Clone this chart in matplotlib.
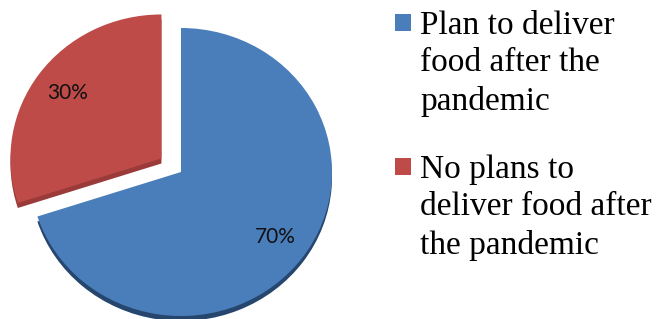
import matplotlib
matplotlib.use("Agg")
import matplotlib.pyplot as plt
from matplotlib.patches import Rectangle

LABELS = ["Plan to deliver\nfood after the\npandemic",
          "No plans to\ndeliver food after\nthe pandemic"]
SHARES = [70, 30]
EXPLODE = [0, 0.16]

COLORS = ["#4a7ebb", "#be4b48"]
SIDE_COLORS = ["#26466e", "#9a3b39"]

W, H = 656, 319
fig = plt.figure(figsize=(W / 100, H / 100), dpi=100)
fig.patch.set_facecolor("white")
ax = fig.add_axes([0, 0, 360 / W, 1])

# darker copy a few pixels lower gives the slab a bit of thickness
ax.pie(SHARES, explode=EXPLODE, colors=SIDE_COLORS, startangle=90,
       counterclock=False, center=(0, -0.035),
       wedgeprops=dict(linewidth=0))
wedges, _, autotexts = ax.pie(
    SHARES, explode=EXPLODE, colors=COLORS, startangle=90, counterclock=False,
    autopct="%d%%", pctdistance=0.77,
    wedgeprops=dict(linewidth=0),
    textprops=dict(fontsize=15, family="Lato", color="#111111"))

ax.set_aspect("auto")
ax.set_xlim(-181 / 151, (360 - 181) / 151)
ax.set_ylim(-147 / 144, 172 / 144)
ax.axis("off")

# legend drawn by hand: square sits beside the first line of each label
entry_tops = [10, 154]   # px from top
for color, label, top in zip(COLORS, LABELS, entry_tops):
    fig.patches.append(Rectangle((395 / W, 1 - (top + 21) / H), 16 / W, 17 / H,
                                 transform=fig.transFigure, facecolor=color,
                                 edgecolor="none"))
    fig.text(420 / W, 1 - top / H, label, ha="left", va="top",
             family="Liberation Serif", fontsize=24, linespacing=1.31,
             color="#000000")

fig.savefig("out.png", dpi=100, facecolor="white")
